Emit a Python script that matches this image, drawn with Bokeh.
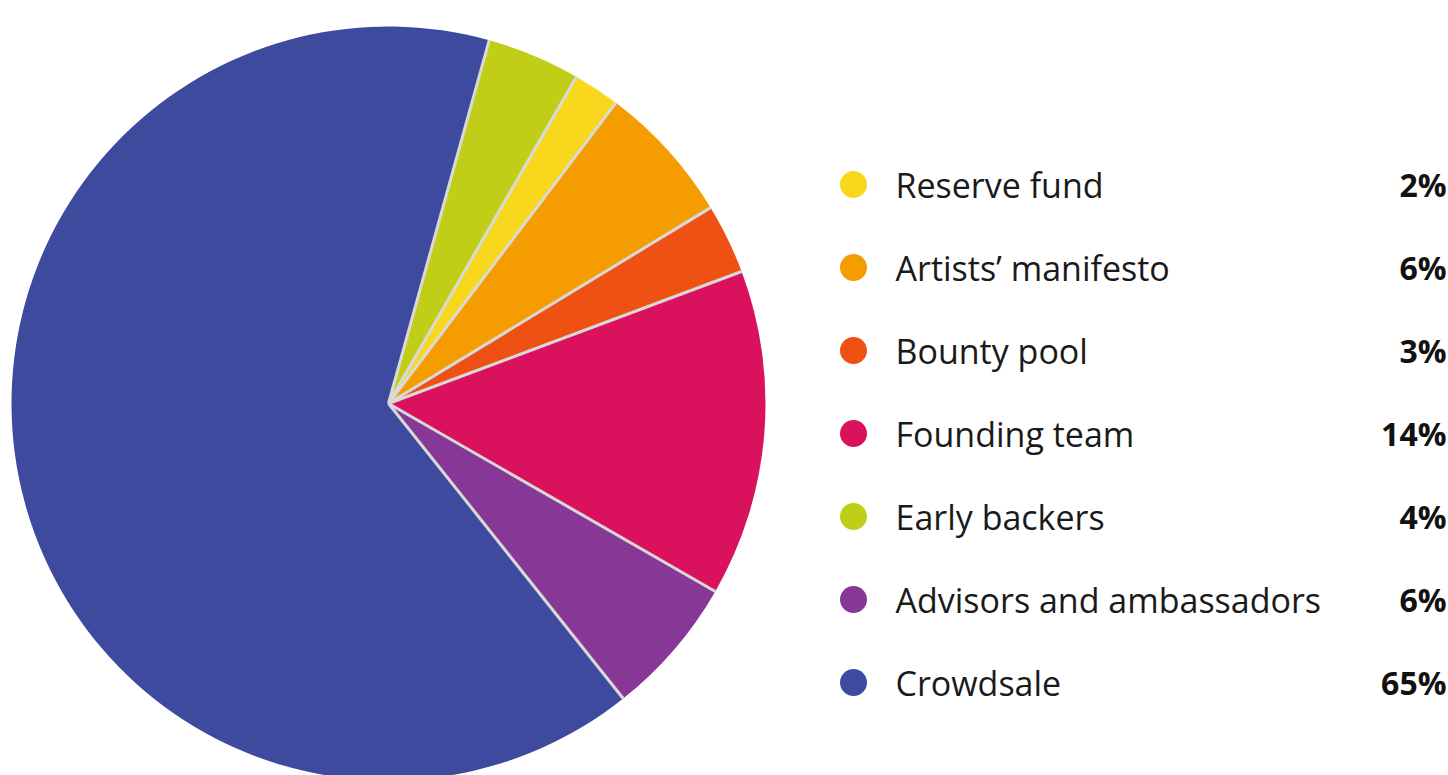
import math
from bokeh.plotting import figure
from bokeh.models import Range1d, ColumnDataSource
from bokeh.core.properties import value
from bokeh.embed import file_html
from bokeh.resources import INLINE

# Data
categories = ["Reserve fund", "Artists\u2019 manifesto", "Bounty pool", "Founding team",
              "Early backers", "Advisors and ambassadors", "Crowdsale"]
shares = [2, 6, 3, 14, 4, 6, 65]
colors = ["#F9D71C", "#F59C00", "#EE5113", "#DA125E", "#C0CE18", "#873795", "#3D4A9E"]
pie_order = ["Early backers", "Reserve fund", "Artists\u2019 manifesto", "Bounty pool",
             "Founding team", "Advisors and ambassadors", "Crowdsale"]
start_offset_deg = 15.5  # clockwise from 12 o'clock

W, H = 1448, 775
p = figure(width=W, height=H, output_backend="svg", toolbar_location=None,
           x_range=Range1d(0, W), y_range=Range1d(0, H),
           min_border=0, outline_line_color=None)
p.axis.visible = False
p.grid.visible = False
p.background_fill_color = "white"
p.border_fill_color = "white"

cx, cy, r = 388, 775 - 403, 377

# Pie wedges
idx = {c: i for i, c in enumerate(categories)}
total = sum(shares)
acc = start_offset_deg
starts, ends, wcols, bounds = [], [], [], []
for name in pie_order:
    v = shares[idx[name]]
    a0 = acc
    a1 = acc + v / total * 360.0
    starts.append(math.radians(90 - a0))
    ends.append(math.radians(90 - a1))
    wcols.append(colors[idx[name]])
    bounds.append(math.radians(90 - a0))
    acc = a1

src = ColumnDataSource(dict(x=[cx] * len(starts), y=[cy] * len(starts),
                            s=starts, e=ends, c=wcols))
p.wedge(x="x", y="y", radius=r, start_angle="s", end_angle="e", direction="clock",
        fill_color="c", line_color=None, source=src)
p.ray(x=[cx] * len(bounds), y=[cy] * len(bounds), length=r, angle=bounds,
      line_color="#d9d9d9", line_width=3)

# Legend
ys = [775 - (184 + 83 * i) for i in range(len(categories))]
p.scatter(x=[853] * len(categories), y=ys, size=27, marker="circle",
          fill_color=colors, line_color=None)
p.text(x=[895] * len(categories), y=ys, text=categories, text_font=value("Open Sans"),
       text_font_size="34px", text_baseline="middle", text_align="left",
       text_color="#1a1a1a")
p.text(x=[1446] * len(categories), y=ys, text=[f"{s}%" for s in shares],
       text_font=value("Open Sans"), text_font_style="bold",
       text_font_size="32px", text_baseline="middle", text_align="right",
       text_color="#111111")

open("out.html", "w").write(file_html(p, INLINE))
